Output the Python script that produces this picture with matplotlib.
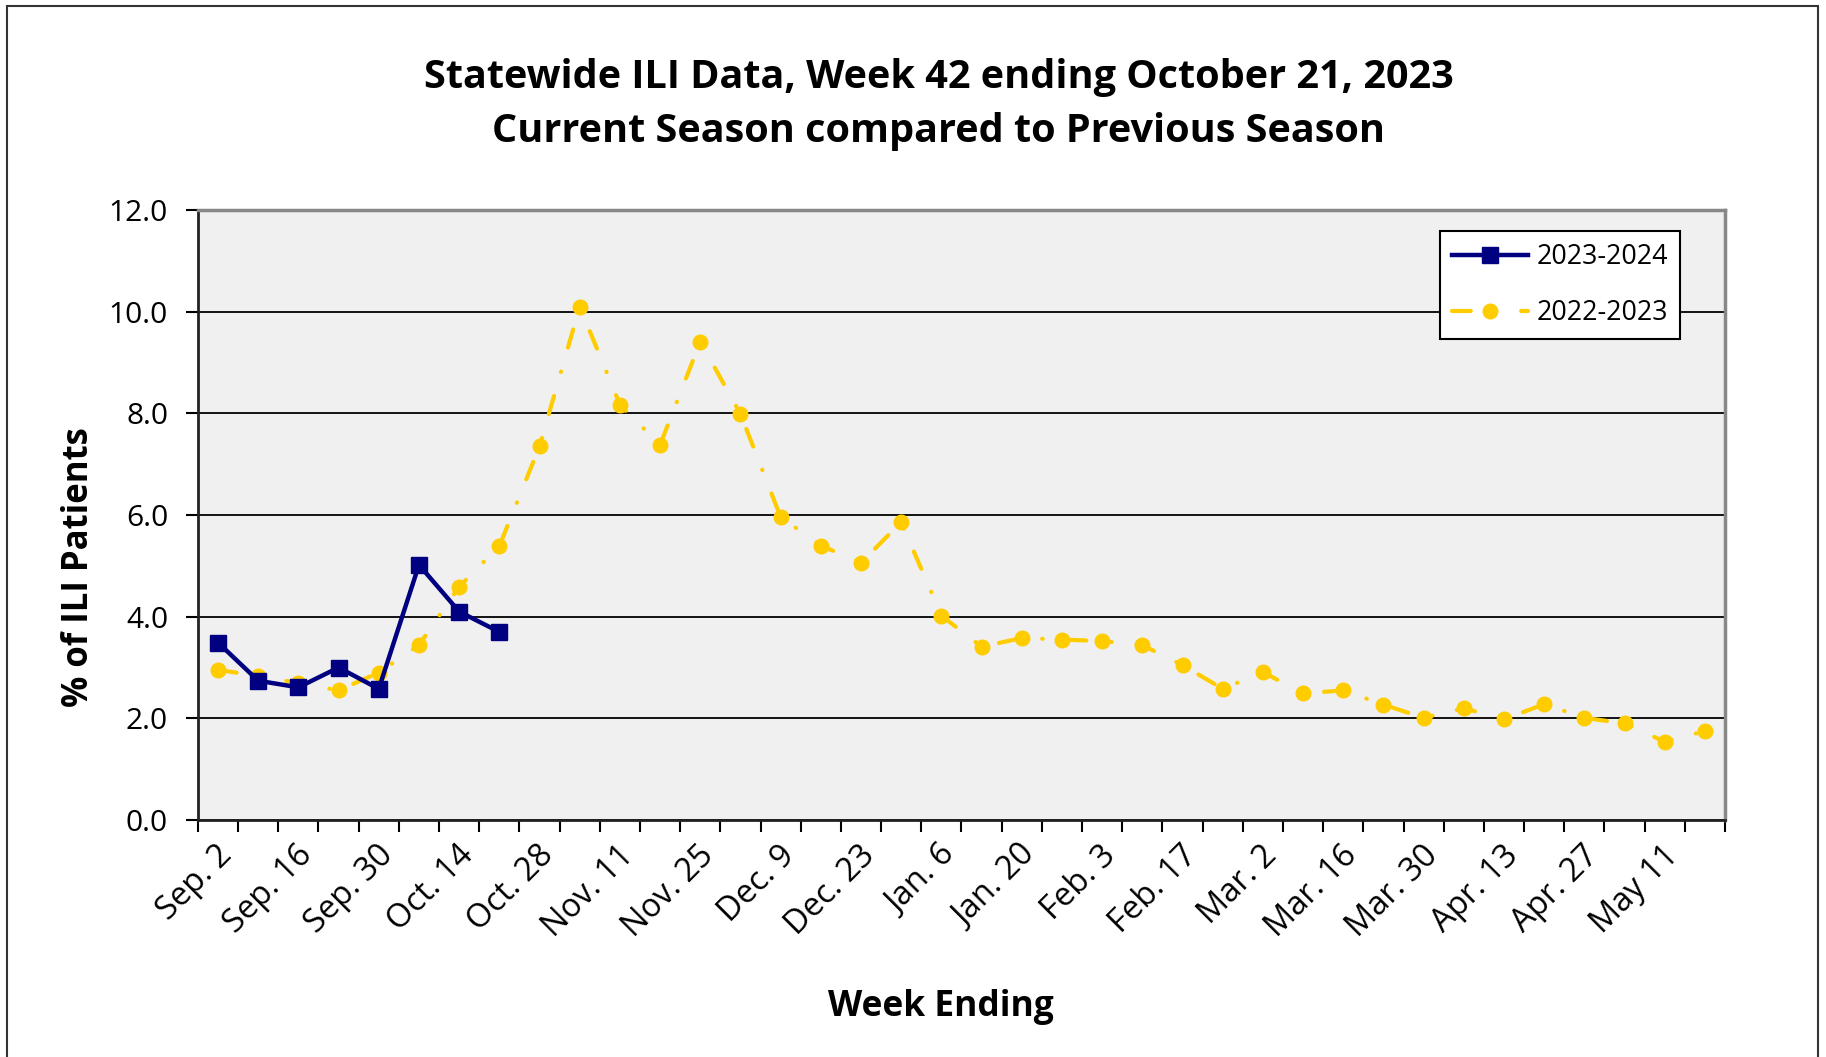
import matplotlib
matplotlib.use("Agg")
import matplotlib.pyplot as plt
import matplotlib.patches as patches

#-----------------------------
weeks = ['Sep. 2', 'Sep. 9', 'Sep. 16', 'Sep. 23', 'Sep. 30', 'Oct. 7', 'Oct. 14', 'Oct. 21',
         'Oct. 28', 'Nov. 4', 'Nov. 11', 'Nov. 18', 'Nov. 25', 'Dec. 2', 'Dec. 9', 'Dec. 16',
         'Dec. 23', 'Dec. 30', 'Jan. 6', 'Jan. 13', 'Jan. 20', 'Jan. 27', 'Feb. 3', 'Feb. 10',
         'Feb. 17', 'Feb. 24', 'Mar. 2', 'Mar. 9', 'Mar. 16', 'Mar. 23', 'Mar. 30', 'Apr. 6',
         'Apr. 13', 'Apr. 20', 'Apr. 27', 'May 4', 'May 11', 'May 18']

season_2023 = [3.49, 2.74, 2.61, 3.00, 2.58, 5.02, 4.10, 3.70]

season_2022 = [2.95, 2.84, 2.69, 2.55, 2.90, 3.44, 4.59, 5.39, 7.35, 10.10,
               8.17, 7.38, 9.41, 7.99, 5.96, 5.40, 5.06, 5.86, 4.02, 3.41,
               3.58, 3.55, 3.52, 3.44, 3.05, 2.58, 2.91, 2.49, 2.55, 2.27,
               2.01, 2.20, 1.98, 2.28, 2.01, 1.90, 1.54, 1.75]

y_ticks = [0.0, 2.0, 4.0, 6.0, 8.0, 10.0, 12.0]

navy = '#000080'
gold = '#FFCC00'
myfont = 'Open Sans'
ytick_size = 21.5
xtick_size = 23.5
label_shift = 0.23   # rotated labels end a little right of the category centre
#-----------------------------


def draw_chart():
    plt.rcParams['font.family'] = [myfont, 'DejaVu Sans']
    fig = plt.figure(figsize=(18.26, 10.57), dpi=100)
    ax = fig.add_axes([0.1084, 0.2242, 0.8363, 0.5771])
    ax.set_facecolor('#f0f0f0')

    # outer chart border
    fig.patches.append(patches.Rectangle((0.004, -0.05), 0.9915, 1.044, transform=fig.transFigure,
                                         fill=False, edgecolor='#333333', linewidth=1.5))

    x_all = list(range(len(weeks)))
    x_cur = list(range(len(season_2023)))

    ax.plot(x_cur, season_2023, color=navy, linewidth=3.2, marker='s', markersize=11,
            label='2023-2024', zorder=4)
    ax.plot(x_all, season_2022, color=gold, linewidth=3.0, marker='o', markersize=10.5,
            dashes=(4.5, 6, 0.1, 6), dash_capstyle='round', label='2022-2023', zorder=3)

    ax.set_xlim(-0.5, len(weeks) - 0.5)
    ax.set_ylim(0, 12)
    ax.set_yticks(y_ticks)
    ax.set_yticklabels(['%.1f' % v for v in y_ticks], fontsize=ytick_size)
    ax.yaxis.grid(True, color='black', linewidth=1.3)
    ax.set_axisbelow(True)

    # major ticks between categories, labels on every other week
    ax.set_xticks([i - 0.5 for i in range(len(weeks) + 1)])
    ax.set_xticklabels([])
    lab_pos = [i + label_shift for i in x_all[::2]]
    ax.set_xticks(lab_pos, minor=True)
    ax.set_xticklabels(weeks[::2], minor=True, rotation=45, ha='right', va='center',
                       rotation_mode='anchor', fontsize=xtick_size)
    ax.tick_params(axis='x', which='minor', length=0, pad=22)
    ax.tick_params(axis='x', which='major', length=8.5, width=1.5, direction='out')
    ax.tick_params(axis='y', length=8.5, width=1.5, direction='out', pad=13)

    for side in ['left', 'bottom']:
        ax.spines[side].set_color('#222222')
        ax.spines[side].set_linewidth(2)
    for side in ['top', 'right']:
        ax.spines[side].set_color('#888888')
        ax.spines[side].set_linewidth(2.5)

    leg = ax.legend(loc='upper right', bbox_to_anchor=(0.9705, 0.9656), borderaxespad=0,
                    fontsize=19.3, fancybox=False, framealpha=1, edgecolor='black',
                    handlelength=2.85, handletextpad=0.3, labelspacing=1.05, borderpad=0.45)
    leg.get_frame().set_linewidth(1.5)

    fig.text(0.514, 0.9265, 'Statewide ILI Data, Week 42 ending October 21, 2023',
             ha='center', va='center', fontsize=28.5, fontweight='bold')
    fig.text(0.514, 0.8755, 'Current Season compared to Previous Season',
             ha='center', va='center', fontsize=28.5, fontweight='bold')
    fig.text(0.0435, 0.4636, '% of ILI Patients', rotation=90, ha='center', va='center',
             fontsize=25, fontweight='bold')
    fig.text(0.515, 0.0475, 'Week Ending', ha='center', va='center', fontsize=25.5,
             fontweight='bold')

    fig.savefig('out.png', dpi=100)


def main():
    draw_chart()


if __name__ == "__main__":
    main()
